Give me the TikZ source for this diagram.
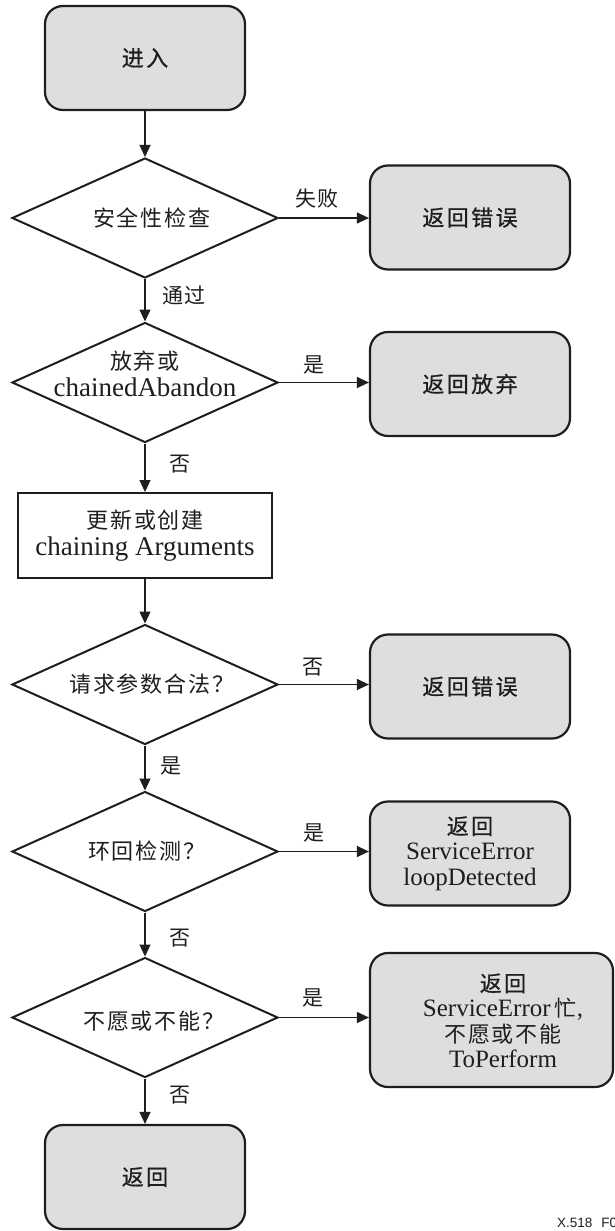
\documentclass[tikz,border=0pt]{standalone}
\usepackage{fontspec}
\setmainfont{Liberation Serif}
\newfontfamily\cjk{Noto Sans CJK SC}[LetterSpace=9]
\newfontfamily\cjkb{Noto Sans CJK SC}[LetterSpace=11,FakeBold=0.6]
\newfontfamily\tagfont{Liberation Sans}
\usetikzlibrary{shapes.geometric,arrows.meta}
\definecolor{ink}{HTML}{1E1E1E}
\definecolor{boxgray}{HTML}{DEDEDE}
\newcommand\zhtext{\cjk\fontsize{22}{27}\selectfont}
\newcommand\zhbox{\cjkb\fontsize{22}{25.5}\selectfont}
\begin{document}
\begin{tikzpicture}[x=1pt,y=-1pt,
  every node/.style={inner sep=0pt,text=ink},
  term/.style={draw=ink,fill=boxgray,rounded corners=18pt,line width=2.2pt,
    minimum width=200pt,minimum height=104pt,align=center,
    font=\fontsize{25}{25.5}\selectfont},
  decide/.style={draw=ink,diamond,line width=2pt,
    minimum width=266pt,minimum height=120pt},
  proc/.style={draw=ink,line width=2pt,minimum width=254pt,minimum height=85pt,
    align=center,font=\fontsize{27}{27}\selectfont},
  dtext/.style={align=center,font=\fontsize{27}{27}\selectfont},
  tag/.style={font=\cjk\fontsize{21}{21}\selectfont},
  flow/.style={draw=ink,line width=1.2pt,-{Triangle[length=12pt,width=11pt]}}]

\fill[white] (0,0) rectangle (615,1231);
\useasboundingbox (0,0) rectangle (615,1231);

% main column
\node[term] (start) at (145,58) {\zhbox 进入};
\node[decide] (d1) at (145,218) {};
\node[dtext] (d1t) at (152,218) {\zhtext 安全性检查};
\node[decide] (d2) at (145,382.5) {};
\node[dtext] (d2t) at (145,373.5) {{\zhtext 放弃或}\\chainedAbandon};
\node[proc] (upd) at (145,535.5) {{\zhtext 更新或创建}\\chaining Arguments};
\node[decide] (d3) at (145,684.5) {};
\node[dtext] (d3t) at (152,684.5) {\zhtext 请求参数合法？};
\node[decide] (d4) at (145,851.5) {};
\node[dtext] (d4t) at (147,851.5) {\zhtext 环回检测？};
\node[decide] (d5) at (145,1017.5) {};
\node[dtext] (d5t) at (154,1021) {\zhtext 不愿或不能？};
\node[term] (fin) at (145,1177) {\zhbox 返回};

% result boxes
\node[term] (b1) at (470,217.5) {\zhbox 返回错误};
\node[term] (b2) at (470,384) {\zhbox 返回放弃};
\node[term] (b3) at (470,686.5) {\zhbox 返回错误};
\node[term] (b4) at (470,853.5) {{\zhbox 返回}\\ServiceError\\loopDetected};
\node[term,minimum width=243pt,minimum height=134pt] (b5) at (491.5,1020) {};
\node[align=center,font=\fontsize{25}{25.2}\selectfont] (b5t) at (503,1020.5)
  {{\zhbox 返回}\\ServiceError\,{\zhtext 忙},\\{\zhtext 不愿或不能}\\ToPerform};

% connectors
\draw[flow] (start) -- (d1);
\draw[flow] (d1) -- (d2);
\draw[flow] (d2) -- (upd);
\draw[flow] (upd) -- (d3);
\draw[flow] (d3) -- (d4);
\draw[flow] (d4) -- (d5);
\draw[flow] (d5) -- (fin);
\draw[flow] (d1.east) -- (d1.east -| b1.west);
\draw[flow] (d2.east) -- (d2.east -| b2.west);
\draw[flow] (d3.east) -- (d3.east -| b3.west);
\draw[flow] (d4.east) -- (d4.east -| b4.west);
\draw[flow] (d5.east) -- (d5.east -| b5.west);

% branch labels
\node[tag] (l1) at (317,199) {失败};
\node[tag] (l2) at (184,295) {通过};
\node[tag] (l3) at (314,365) {是};
\node[tag] (l4) at (180,464) {否};
\node[tag] (l5) at (313,667) {否};
\node[tag] (l6) at (171,766) {是};
\node[tag] (l7) at (314,833) {是};
\node[tag] (l8) at (180,938) {否};
\node[tag] (l9) at (313,998) {是};
\node[tag] (l10) at (180,1095) {否};

\node[anchor=base west,font=\tagfont\fontsize{13.5}{14}\selectfont] (fig)
  at (557,1227) {X.518\hspace{9pt}F0};
\end{tikzpicture}
\end{document}
